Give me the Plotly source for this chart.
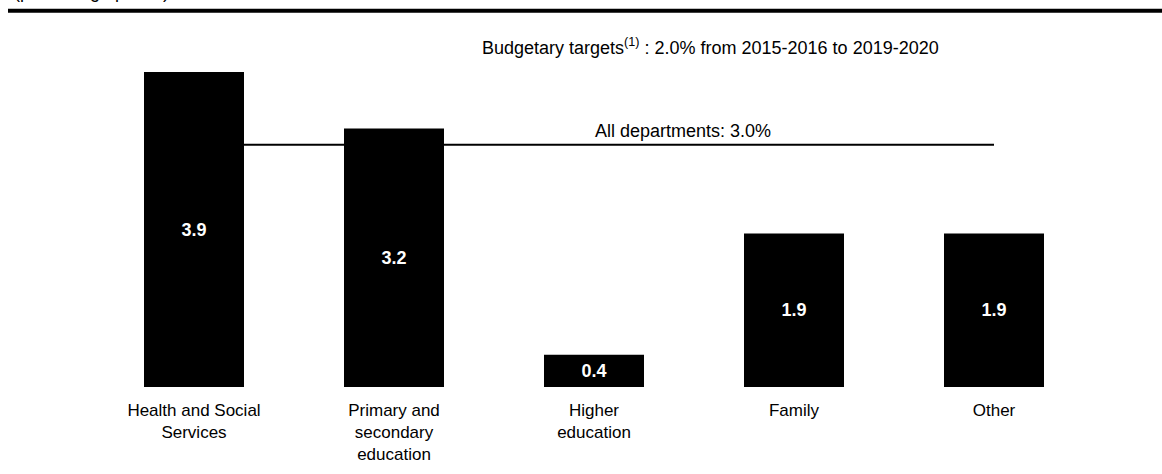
import plotly.graph_objects as go

# Departments and their average annual growth in spending (percentage points)
categories = [
    "Health and Social<br>Services",
    "Primary and<br>secondary<br>education",
    "Higher<br>education",
    "Family",
    "Other",
]
growth = [3.9, 3.2, 0.4, 1.9, 1.9]
value_labels = ["3.9", "3.2", "0.4", "1.9", "1.9"]

all_departments = 3.0
all_departments_label = "All departments: 3.0%"
targets_label = "Budgetary targets<sup>(1)</sup> : 2.0% from 2015-2016 to 2019-2020"
unit_label = "(percentage points)"

FONT = "Liberation Sans, Arial, sans-serif"

fig = go.Figure()

fig.add_trace(
    go.Bar(
        x=categories,
        y=growth,
        width=0.5,
        marker=dict(color="#000000", line=dict(width=0)),
        text=value_labels,
        textposition="inside",
        insidetextanchor="middle",
        textangle=0,
        textfont=dict(family=FONT, size=18, color="#ffffff", weight="bold"),
        hoverinfo="skip",
    )
)

# Reference line for all departments, behind the bars
fig.add_shape(
    type="line",
    xref="x",
    yref="y",
    x0=categories[0],
    x1=categories[-1],
    y0=all_departments,
    y1=all_departments,
    line=dict(color="#000000", width=2),
    layer="below",
)

fig.add_annotation(
    x=2.445,
    y=all_departments,
    xref="x",
    yref="y",
    text=all_departments_label,
    showarrow=False,
    xanchor="center",
    yanchor="bottom",
    yshift=2,
    font=dict(family=FONT, size=18, color="#000000"),
)

fig.add_annotation(
    x=0.386,
    y=1.053,
    xref="paper",
    yref="paper",
    text=targets_label,
    showarrow=False,
    xanchor="left",
    yanchor="middle",
    font=dict(family=FONT, size=18, color="#000000"),
)

# Unit caption above the heading rule
fig.add_annotation(
    x=-0.082,
    y=1.186,
    xref="paper",
    yref="paper",
    text=unit_label,
    showarrow=False,
    xanchor="left",
    yanchor="bottom",
    font=dict(family=FONT, size=18, color="#000000"),
)

# Heading rule across the top
fig.add_shape(
    type="line",
    xref="paper",
    yref="paper",
    x0=-0.086,
    x1=1.07,
    y0=1.165,
    y1=1.165,
    line=dict(color="#000000", width=4),
)

fig.update_layout(
    width=1162,
    height=474,
    margin=dict(l=94, r=68, t=64, b=87, autoexpand=False),
    paper_bgcolor="#ffffff",
    plot_bgcolor="#ffffff",
    showlegend=False,
    font=dict(family=FONT, size=17, color="#000000"),
    xaxis=dict(
        type="category",
        range=[-0.5, 4.5],
        automargin=False,
        showgrid=False,
        showline=False,
        zeroline=False,
        ticks="",
        ticklabelstandoff=11,
        tickfont=dict(family=FONT, size=17, color="#000000"),
        fixedrange=True,
    ),
    yaxis=dict(
        range=[0, 4.0],
        automargin=False,
        showgrid=False,
        showline=False,
        zeroline=False,
        showticklabels=False,
        ticks="",
        fixedrange=True,
    ),
)

fig.write_html("out.html")
